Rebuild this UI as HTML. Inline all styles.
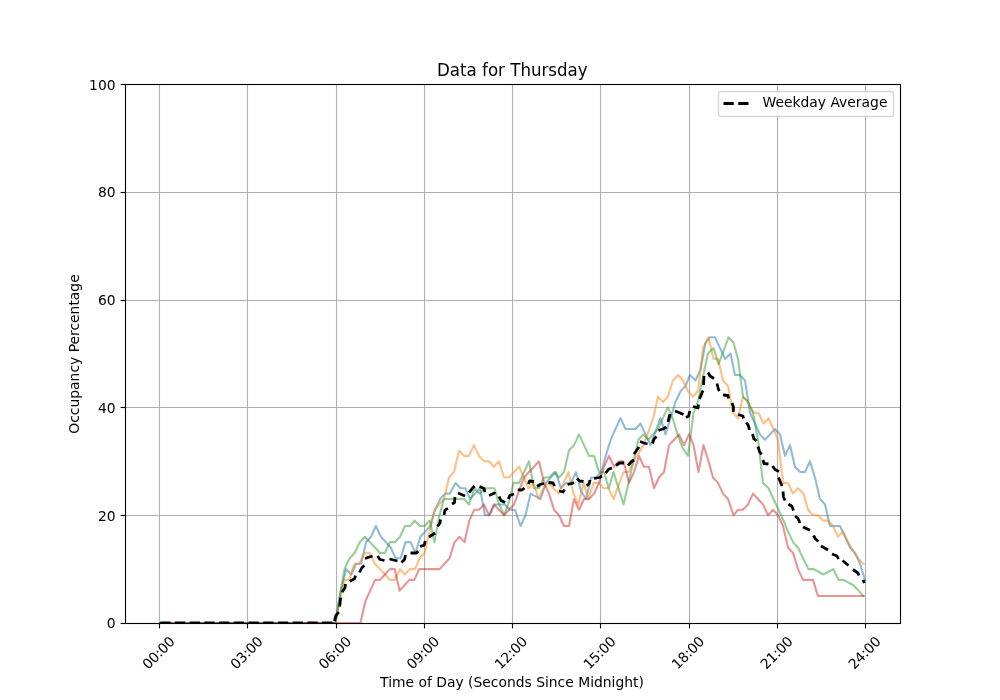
<!DOCTYPE html>
<html lang="en"><head><meta charset="utf-8"><title>Data for Thursday</title>
<style>html,body{margin:0;padding:0;background:#fff}body{width:1000px;height:700px;overflow:hidden}svg{display:block}text{font-family:"DejaVu Sans","Liberation Sans",sans-serif;fill:#000}</style></head><body>
<svg width="1000" height="700" viewBox="0 0 1000 700">
<rect width="1000" height="700" fill="#fff"/>
<g stroke="#b0b0b0" stroke-width="1.11" fill="none">
<line x1="159.5" y1="84" x2="159.5" y2="623"/>
<line x1="247.5" y1="84" x2="247.5" y2="623"/>
<line x1="336.5" y1="84" x2="336.5" y2="623"/>
<line x1="424.5" y1="84" x2="424.5" y2="623"/>
<line x1="512.5" y1="84" x2="512.5" y2="623"/>
<line x1="600.5" y1="84" x2="600.5" y2="623"/>
<line x1="689.5" y1="84" x2="689.5" y2="623"/>
<line x1="777.5" y1="84" x2="777.5" y2="623"/>
<line x1="865.5" y1="84" x2="865.5" y2="623"/>
<line x1="125" y1="515.5" x2="900" y2="515.5"/>
<line x1="125" y1="407.5" x2="900" y2="407.5"/>
<line x1="125" y1="300.5" x2="900" y2="300.5"/>
<line x1="125" y1="192.5" x2="900" y2="192.5"/>
</g>
<clipPath id="ax"><rect x="125" y="84" width="775" height="539"/></clipPath>
<g clip-path="url(#ax)" fill="none" stroke-linejoin="round">
<polyline points="160.20,623.00 335.40,623.00 340.80,590.66 346.28,569.10 351.22,574.49 356.16,563.71 361.10,563.71 366.04,542.15 370.98,536.76 375.92,525.98 380.86,536.76 385.80,542.15 390.74,547.54 395.68,558.32 400.62,558.32 405.56,542.15 410.50,542.15 415.44,552.93 420.38,536.76 425.32,531.37 430.26,525.98 435.20,509.81 440.14,499.03 445.00,493.64 450.00,493.64 455.50,482.86 460.50,488.25 465.50,488.25 470.00,499.03 475.00,493.64 480.00,488.25 485.00,515.20 489.50,515.20 494.50,504.42 499.50,504.42 505.00,504.42 510.00,509.81 515.00,509.81 520.50,525.98 525.50,515.20 530.60,493.64 535.60,496.34 540.70,499.03 545.70,482.86 550.80,477.47 555.80,472.08 560.90,488.25 566.00,482.86 571.00,482.86 576.00,472.08 581.00,490.95 586.00,499.03 591.20,477.47 596.20,477.47 601.30,472.08 605.70,455.91 610.70,439.74 615.50,428.96 620.50,418.18 625.50,428.96 630.50,428.96 635.50,428.96 640.50,423.57 645.50,434.35 650.50,445.13 655.50,431.65 660.50,418.18 665.50,434.35 670.50,418.18 675.50,402.01 680.50,391.23 685.50,385.84 690.00,375.06 695.50,380.45 700.50,369.67 705.50,342.72 710.00,337.33 715.00,337.33 720.00,348.11 725.00,358.89 730.50,353.50 735.00,375.06 740.00,375.06 745.00,380.45 750.00,412.79 755.00,423.57 760.00,434.35 765.00,439.74 770.00,434.35 775.00,428.96 780.00,434.35 785.00,455.91 790.00,445.13 795.00,466.69 800.00,472.08 805.00,472.08 810.00,461.30 815.00,477.47 820.00,499.03 825.00,504.42 830.00,525.98 835.00,525.98 840.00,525.98 845.00,536.76 850.00,547.54 855.00,552.93 860.00,563.71 865.00,579.88" stroke="#1f77b4" stroke-opacity="0.5" stroke-width="2.083" stroke-linecap="square"/>
<polyline points="160.20,623.00 335.50,623.00 339.80,601.44 344.00,579.88 349.20,579.88 354.30,563.71 359.40,563.71 364.60,552.93 369.70,552.93 374.80,563.71 379.90,569.10 385.00,574.49 390.00,579.88 395.00,579.88 400.00,569.10 404.70,574.49 410.00,569.10 415.00,569.10 419.60,558.32 424.60,552.93 429.50,531.37 434.40,509.81 439.30,504.42 444.20,499.03 449.00,477.47 454.00,472.08 459.00,450.52 464.00,455.91 469.00,455.91 474.00,445.13 479.00,455.91 484.00,461.30 489.00,461.30 494.00,466.69 499.00,461.30 504.00,477.47 509.00,477.47 514.00,472.08 519.00,466.69 524.00,477.47 528.50,488.25 533.50,482.86 538.50,499.03 543.50,488.25 548.50,482.86 553.50,488.25 558.50,493.64 563.50,482.86 568.50,472.08 573.50,493.64 578.50,504.42 583.50,482.86 588.50,499.03 593.50,482.86 598.50,482.86 603.50,488.25 608.50,488.25 613.50,499.03 618.50,485.56 623.50,472.08 628.50,472.08 633.50,461.30 638.50,453.22 643.50,445.13 648.50,431.65 653.20,418.18 658.10,396.62 663.00,402.01 667.90,396.62 673.00,380.45 678.00,375.06 683.00,380.45 688.00,391.23 693.00,396.62 698.00,391.23 703.00,348.11 708.50,337.33 713.50,358.89 718.00,358.89 723.00,380.45 728.00,385.84 733.00,412.79 738.00,418.18 743.00,396.62 748.00,402.01 753.50,412.79 758.50,412.79 763.50,423.57 768.50,418.18 773.50,428.96 778.00,439.74 783.00,482.86 788.00,482.86 793.00,493.64 798.00,488.25 803.50,493.64 808.00,509.81 813.00,515.20 818.00,515.20 823.00,520.59 828.00,520.59 833.00,525.98 838.00,536.76 843.00,531.37 848.00,542.15 853.00,550.24 858.00,558.32 863.50,563.71" stroke="#ff7f0e" stroke-opacity="0.5" stroke-width="2.083" stroke-linecap="square"/>
<polyline points="160.20,623.00 335.20,623.00 339.80,596.05 344.50,569.10 349.60,558.32 354.70,552.93 359.80,542.15 364.90,536.76 370.00,542.15 375.00,547.54 379.90,552.93 385.00,552.93 389.80,542.15 395.00,542.15 400.00,536.76 405.00,525.98 410.00,525.98 414.60,520.59 420.00,525.98 424.60,525.98 429.70,520.59 434.50,542.15 439.50,515.20 444.00,499.03 449.00,499.03 454.00,499.03 459.00,499.03 464.00,499.03 469.00,504.42 474.50,488.25 479.50,493.64 484.50,488.25 489.50,488.25 494.50,488.25 499.20,504.42 504.30,515.20 509.00,501.73 513.50,482.86 519.00,482.86 524.00,472.08 529.00,461.30 534.00,488.25 539.00,488.25 544.00,477.47 549.00,477.47 554.50,472.08 559.00,477.47 564.00,472.08 569.00,450.52 574.00,445.13 579.00,434.35 584.00,445.13 589.00,455.91 594.00,455.91 599.00,472.08 604.00,472.08 608.70,488.25 613.60,472.08 618.50,488.25 623.60,504.42 628.50,482.86 633.50,461.30 638.40,439.74 643.30,434.35 648.20,439.74 653.10,434.35 658.00,428.96 662.90,418.18 667.80,407.40 672.70,418.18 677.60,434.35 682.50,447.83 688.00,455.91 693.50,412.79 698.50,399.32 703.30,375.06 708.00,353.50 713.50,348.11 718.50,364.28 723.50,350.81 728.50,337.33 733.50,342.72 738.00,358.89 743.00,396.62 748.00,402.01 753.00,412.79 758.00,439.74 763.00,482.86 768.50,488.25 773.50,499.03 778.50,509.81 783.50,520.59 788.00,531.37 793.00,542.15 798.00,547.54 803.00,558.32 808.50,569.10 813.50,569.10 818.50,571.79 823.50,574.49 828.50,571.79 833.50,569.10 838.50,579.88 843.50,579.88 848.50,582.58 853.50,585.27 858.50,590.66 863.50,596.05" stroke="#2ca02c" stroke-opacity="0.5" stroke-width="2.083" stroke-linecap="square"/>
<polyline points="160.20,623.00 335.90,623.00 340.80,623.00 345.70,623.00 350.60,623.00 355.50,623.00 360.40,623.00 365.30,601.44 370.20,590.66 375.10,579.88 380.00,579.88 384.90,574.49 389.80,569.10 394.70,569.10 399.60,590.66 404.50,585.27 409.40,579.88 414.30,579.88 419.20,569.10 424.10,569.10 429.50,569.10 434.50,569.10 439.50,569.10 444.50,563.71 449.50,558.32 454.50,542.15 459.50,536.76 464.50,542.15 469.30,520.59 474.20,509.81 479.10,509.81 484.00,504.42 489.00,515.20 494.00,504.42 499.00,509.81 504.00,515.20 509.00,509.81 514.00,504.42 519.00,490.95 524.00,477.47 529.00,472.08 534.00,466.69 539.00,461.30 544.00,482.86 549.00,493.64 554.00,509.81 559.00,515.20 564.00,525.98 569.00,525.98 574.00,499.03 579.00,509.81 584.00,499.03 589.00,499.03 594.00,493.64 599.00,482.86 604.00,466.69 609.00,455.91 614.00,466.69 619.00,461.30 623.50,461.30 629.00,482.86 634.00,472.08 639.00,455.91 644.00,466.69 649.00,466.69 654.00,488.25 659.00,477.47 664.00,472.08 669.00,445.13 674.00,439.74 679.00,434.35 684.00,445.13 689.00,434.35 693.50,445.13 698.50,472.08 703.50,445.13 708.50,461.30 713.00,477.47 718.00,482.86 723.00,493.64 728.00,499.03 733.50,515.20 738.00,509.81 743.00,509.81 748.00,504.42 753.00,493.64 758.00,499.03 763.00,504.42 768.00,515.20 773.00,509.81 778.00,515.20 783.00,525.98 788.00,547.54 793.00,552.93 798.00,569.10 803.00,579.88 808.00,579.88 813.00,579.88 818.00,596.05 863.50,596.05" stroke="#d62728" stroke-opacity="0.5" stroke-width="2.083" stroke-linecap="square"/>
<g stroke="#000" stroke-width="2.778" stroke-linecap="butt">
<line x1="160.2" y1="623.00" x2="332.5" y2="623.00" stroke-dasharray="10.28 4.44"/>
<polyline points="334.4,621.0 336.0,615.4 338.8,612.2"/>
<polyline points="339.7,606.5 340.6,597.6"/>
<polyline points="342.0,592.1 344.9,588.0 345.5,584.0"/>
<polyline points="349.8,581.2 354.5,578.8 355.5,575.6"/>
<polyline points="359.5,572.5 362.0,567.5 364.5,565.5"/>
<polyline points="365.0,558.5 372.5,556.0"/>
<polyline points="377.5,556.0 380.0,559.5 384.5,560.5"/>
<polyline points="389.5,559.0 397.5,561.0"/>
<polyline points="401.5,562.5 404.5,559.5 405.5,555.0"/>
<polyline points="410.5,553.0 416.0,553.0 418.5,551.5"/>
<polyline points="420.0,546.5 424.2,545.2 425.3,541.0"/>
<polyline points="429.0,537.0 435.0,533.0"/>
<polyline points="437.5,526.5 440.0,523.0 440.5,519.5"/>
<polyline points="444.0,515.0 445.0,510.0 448.0,508.5"/>
<polyline points="452.0,504.0 454.5,502.5 455.0,497.0"/>
<polyline points="458.0,493.0 465.0,496.0"/>
<polyline points="469.0,492.5 474.5,486.0"/>
<polyline points="479.5,486.5 484.0,488.5 485.0,492.0"/>
<polyline points="489.0,495.5 494.5,493.0 495.0,492.0"/>
<polyline points="499.0,496.5 501.0,500.5 505.0,502.5"/>
<polyline points="508.3,499.0 509.8,495.5 514.0,494.0"/>
<polyline points="517.8,489.8 522.0,490.0 524.5,488.0"/>
<polyline points="528.5,484.0 529.5,481.0 534.0,481.5"/>
<polyline points="537.0,486.5 540.0,484.5 544.0,483.5"/>
<polyline points="548.5,482.5 553.0,483.0 554.5,486.0"/>
<polyline points="559.0,491.0 563.0,492.0 564.5,489.5"/>
<polyline points="567.5,484.5 572.0,483.5 574.0,482.5"/>
<polyline points="577.0,478.5 579.5,481.0 583.5,481.5"/>
<polyline points="586.5,485.5 589.0,484.0 590.0,480.0"/>
<polyline points="594.0,478.5 599.5,477.5 602.0,476.0"/>
<polyline points="605.7,473.0 608.5,469.3 612.0,468.0"/>
<polyline points="616.0,465.5 619.5,463.0 624.0,463.0"/>
<polyline points="628.0,465.5 631.5,461.5 634.0,460.0"/>
<polyline points="634.0,454.0 639.0,447.0"/>
<polyline points="640.0,441.5 644.0,443.0 647.5,444.0"/>
<polyline points="652.5,443.5 654.0,439.0 656.5,436.5"/>
<polyline points="658.5,430.5 664.0,428.5 666.5,427.0"/>
<polyline points="668.0,422.0 670.0,414.0"/>
<polyline points="675.0,411.0 679.0,412.5 683.5,414.5"/>
<polyline points="686.0,417.5 688.7,416.0 689.8,411.0"/>
<polyline points="693.0,406.5 698.0,408.0 698.5,404.5"/>
<polyline points="699.5,399.0 703.0,390.5"/>
<polyline points="703.5,385.0 704.0,376.0"/>
<polyline points="708.0,372.5 710.0,376.0 714.0,378.5"/>
<polyline points="717.0,383.5 718.5,389.5 719.5,391.0"/>
<polyline points="723.0,395.0 728.0,395.5 728.5,398.5"/>
<polyline points="732.0,403.0 733.5,407.0 733.3,412.0"/>
<polyline points="738.0,414.5 743.0,416.0 743.5,418.5"/>
<polyline points="746.5,422.3 748.5,426.0 749.5,430.0"/>
<polyline points="752.5,434.0 754.0,439.0 756.5,441.0"/>
<polyline points="758.0,446.5 759.5,451.5 761.5,454.5"/>
<polyline points="763.0,460.0 764.0,463.5 768.5,464.0"/>
<polyline points="772.5,466.0 775.0,469.5 779.0,471.5"/>
<polyline points="778.5,477.5 782.0,486.0"/>
<polyline points="783.0,491.5 783.5,497.0 785.0,500.5"/>
<polyline points="788.5,504.0 792.0,506.5 793.5,510.5"/>
<polyline points="795.0,516.0 798.0,518.5 800.0,523.0"/>
<polyline points="803.0,527.0 810.0,530.3"/>
<polyline points="813.5,535.5 815.5,539.0 818.5,541.5"/>
<polyline points="821.0,546.0 828.0,550.0"/>
<polyline points="832.0,554.0 837.0,556.0 838.5,559.0"/>
<polyline points="842.5,560.5 848.5,565.5"/>
<polyline points="853.0,569.5 858.0,573.0 859.0,575.5"/>
<polyline points="863.0,580.0 864.5,583.0"/>
</g>
</g>
<g stroke="#000" stroke-width="1.11" fill="none" stroke-linecap="square">
<rect x="125.5" y="84.5" width="775" height="539"/>
<line x1="159.5" y1="623.5" x2="159.5" y2="628.4" stroke-linecap="butt"/>
<line x1="247.5" y1="623.5" x2="247.5" y2="628.4" stroke-linecap="butt"/>
<line x1="336.5" y1="623.5" x2="336.5" y2="628.4" stroke-linecap="butt"/>
<line x1="424.5" y1="623.5" x2="424.5" y2="628.4" stroke-linecap="butt"/>
<line x1="512.5" y1="623.5" x2="512.5" y2="628.4" stroke-linecap="butt"/>
<line x1="600.5" y1="623.5" x2="600.5" y2="628.4" stroke-linecap="butt"/>
<line x1="689.5" y1="623.5" x2="689.5" y2="628.4" stroke-linecap="butt"/>
<line x1="777.5" y1="623.5" x2="777.5" y2="628.4" stroke-linecap="butt"/>
<line x1="865.5" y1="623.5" x2="865.5" y2="628.4" stroke-linecap="butt"/>
<line x1="120.6" y1="623.5" x2="125.5" y2="623.5" stroke-linecap="butt"/>
<line x1="120.6" y1="515.5" x2="125.5" y2="515.5" stroke-linecap="butt"/>
<line x1="120.6" y1="407.5" x2="125.5" y2="407.5" stroke-linecap="butt"/>
<line x1="120.6" y1="300.5" x2="125.5" y2="300.5" stroke-linecap="butt"/>
<line x1="120.6" y1="192.5" x2="125.5" y2="192.5" stroke-linecap="butt"/>
<line x1="120.6" y1="84.5" x2="125.5" y2="84.5" stroke-linecap="butt"/>
</g>
<g font-size="13.89px">
<text x="115.6" y="627.60" text-anchor="end">0</text>
<text x="115.6" y="520.60" text-anchor="end">20</text>
<text x="115.6" y="412.60" text-anchor="end">40</text>
<text x="115.6" y="304.60" text-anchor="end">60</text>
<text x="115.6" y="196.60" text-anchor="end">80</text>
<text x="115.6" y="89.60" text-anchor="end">100</text>
<text transform="translate(159.10,653.4) rotate(-45)" y="4.0" text-anchor="middle" letter-spacing="-0.2">00:00</text>
<text transform="translate(247.10,653.4) rotate(-45)" y="4.0" text-anchor="middle" letter-spacing="-0.2">03:00</text>
<text transform="translate(335.50,653.4) rotate(-45)" y="4.0" text-anchor="middle" letter-spacing="-0.2">06:00</text>
<text transform="translate(423.50,653.4) rotate(-45)" y="4.0" text-anchor="middle" letter-spacing="-0.2">09:00</text>
<text transform="translate(511.50,653.4) rotate(-45)" y="4.0" text-anchor="middle" letter-spacing="-0.2">12:00</text>
<text transform="translate(600.10,653.4) rotate(-45)" y="4.0" text-anchor="middle" letter-spacing="-0.2">15:00</text>
<text transform="translate(688.50,653.4) rotate(-45)" y="4.0" text-anchor="middle" letter-spacing="-0.2">18:00</text>
<text transform="translate(777.10,653.4) rotate(-45)" y="4.0" text-anchor="middle" letter-spacing="-0.2">21:00</text>
<text transform="translate(865.10,653.4) rotate(-45)" y="4.0" text-anchor="middle" letter-spacing="-0.2">24:00</text>
<text x="512.0" y="686.5" text-anchor="middle">Time of Day (Seconds Since Midnight)</text>
<text transform="translate(78.9,354.0) rotate(-90)" text-anchor="middle">Occupancy Percentage</text>
</g>
<text transform="translate(512.3,76.0) scale(1,1.09)" font-size="16.67px" text-anchor="middle">Data for Thursday</text>
<rect x="718.5" y="91.5" width="175" height="25" rx="2.8" ry="2.8" fill="#fff" fill-opacity="0.8" stroke="#ccc" stroke-opacity="0.8" stroke-width="1.39"/>
<line x1="723.5" y1="103.5" x2="751.3" y2="103.5" stroke="#000" stroke-width="2.778" stroke-dasharray="10.28 4.44"/>
<text x="762.5" y="106.7" font-size="13.89px">Weekday Average</text>
</svg></body></html>
